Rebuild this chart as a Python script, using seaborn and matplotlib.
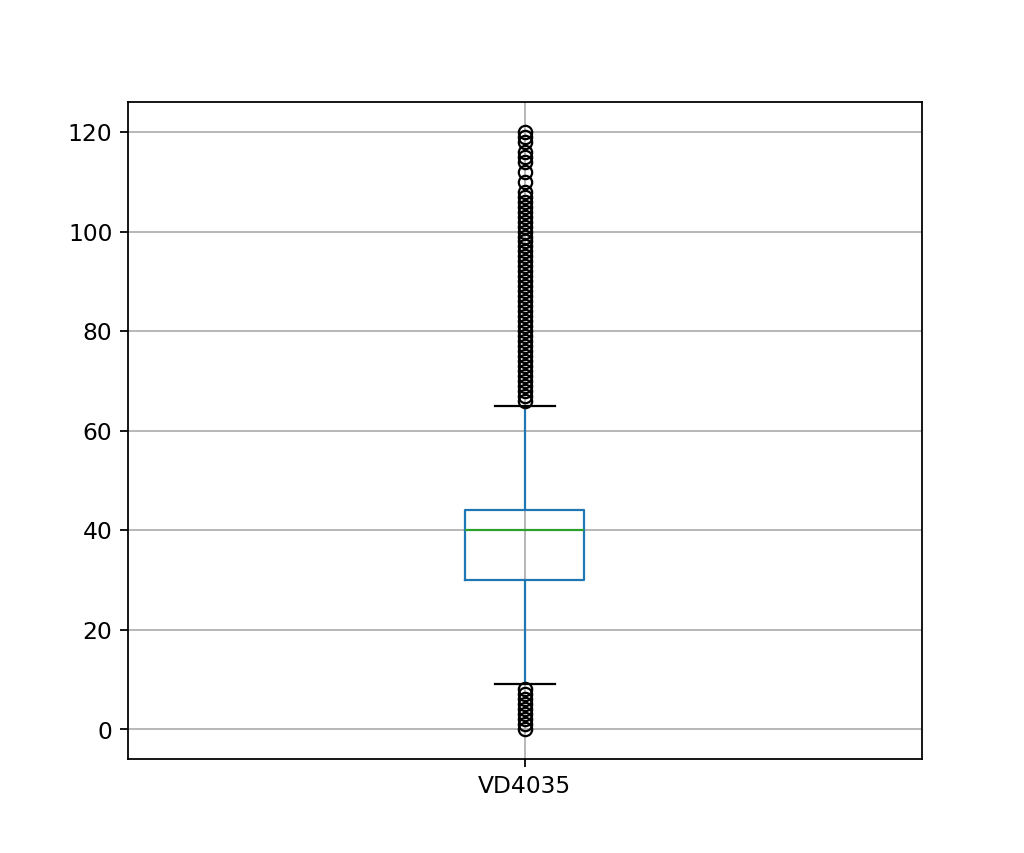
import numpy as np
import pandas as pd
import matplotlib
matplotlib.use('Agg')
import matplotlib.pyplot as plt
import seaborn as sns

# outliers
low_outliers = [0, 1, 2, 3, 4, 5, 6, 7, 8]
high_outliers = list(range(66, 109)) + [110, 112, 114, 115, 116, 118, 119, 120]

# core of the distribution (Q1=30, median=40, Q3=44, whiskers 9 and 65)
core_values = [9, 20, 30, 35, 40, 42, 44, 55, 65]
core_counts = [1, 100, 300, 100, 300, 100, 300, 100, 1]

values = low_outliers + list(np.repeat(core_values, core_counts)) + high_outliers
df = pd.DataFrame({'VD4035': values})

fig, ax = plt.subplots(figsize=(6.4, 5.333), dpi=160)
sns.boxplot(data=df, ax=ax, width=0.15, fill=False, color='#1f77b4',
            linewidth=1,
            medianprops={'color': '#2ca02c'},
            whiskerprops={'color': '#1f77b4'},
            capprops={'color': 'black'},
            flierprops={'marker': 'o', 'markerfacecolor': 'none',
                        'markeredgecolor': 'black', 'markersize': 6})
ax.grid(True)
ax.set_axisbelow(True)
ax.set_xlim(-0.5, 0.5)
ax.tick_params(labelsize=10.5)

fig.savefig('out.png', dpi=160)
